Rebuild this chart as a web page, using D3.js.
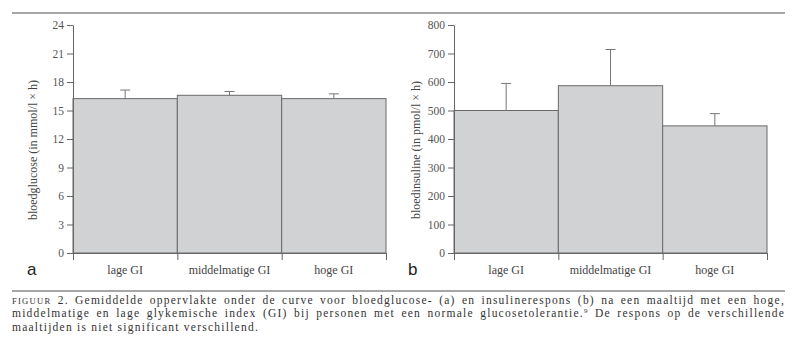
<!DOCTYPE html>
<html>
<head>
<meta charset="utf-8">
<script src="https://cdn.jsdelivr.net/npm/d3@7"></script>
<style>
  body { margin: 0; background: #fff; }
  svg { display: block; }
  .serif { font-family: "Liberation Serif", "Times New Roman", Times, serif; }
</style>
</head>
<body>
<div id="chart"></div>
<script>
// categories (x) shared by both panels
const categories = ["lage GI", "middelmatige GI", "hoge GI"];

// panel a: bloedglucose
const glucoseMean = [16.25, 16.6, 16.25];
const glucoseErr = [0.9, 0.4, 0.5];
const glucoseTicks = [0, 3, 6, 9, 12, 15, 18, 21, 24];

// panel b: bloedinsuline
const insulineMean = [500, 587, 446];
const insulineErr = [95, 127, 43];
const insulineTicks = [0, 100, 200, 300, 400, 500, 600, 700, 800];

const W = 800, H = 351;
const svg = d3.select("#chart").append("svg")
    .attr("width", W)
    .attr("height", H);

svg.append("rect").attr("width", W).attr("height", H).attr("fill", "#fff");

// top rule
svg.append("line")
    .attr("x1", 12).attr("x2", 785)
    .attr("y1", 13).attr("y2", 13)
    .attr("stroke", "#888").attr("stroke-width", 1.3);

function drawPanel(opts) {
    let x = d3.scaleBand()
        .domain(categories)
        .range([opts.left, opts.right])
        .padding(0);

    let y = d3.scaleLinear()
        .domain([0, d3.max(opts.ticks)])
        .range([253, 25]);

    let g = svg.append("g");

    // bars
    g.selectAll(".bar")
        .data(opts.mean)
        .enter()
        .append("rect")
        .attr("class", "bar")
        .attr("x", (d, i) => x(categories[i]))
        .attr("width", x.bandwidth())
        .attr("y", d => y(d))
        .attr("height", d => y(0) - y(d))
        .attr("fill", "#d1d2d4")
        .attr("stroke", "#6a6a6a")
        .attr("stroke-width", 1);

    // error bars (upper only)
    opts.mean.forEach((m, i) => {
        let cx = x(categories[i]) + x.bandwidth() / 2;
        g.append("line")
            .attr("x1", cx).attr("x2", cx)
            .attr("y1", y(m)).attr("y2", y(m + opts.err[i]))
            .attr("stroke", "#777");
        g.append("line")
            .attr("x1", cx - 5).attr("x2", cx + 5)
            .attr("y1", y(m + opts.err[i])).attr("y2", y(m + opts.err[i]))
            .attr("stroke", "#777");
    });

    // y axis
    let yAxis = g.append("g")
        .attr("transform", "translate(" + opts.left + ",0)")
        .call(d3.axisLeft(y).tickValues(opts.ticks).tickSize(6).tickPadding(3).tickSizeOuter(0));
    yAxis.selectAll("text")
        .attr("class", "serif")
        .attr("font-size", 11.5)
        .attr("fill", "#555");
    yAxis.selectAll("line, path").attr("stroke", "#666");

    // x axis: ticks at band edges
    let edges = categories.map(c => x(c)).concat([opts.right]);
    let xEdge = d3.scaleLinear().domain([opts.left, opts.right]).range([opts.left, opts.right]);
    let xAxis = g.append("g")
        .attr("transform", "translate(0,253)")
        .call(d3.axisBottom(xEdge).tickValues(edges).tickSize(7).tickFormat("").tickSizeOuter(0));
    xAxis.selectAll("line, path").attr("stroke", "#666");

    // category labels
    g.selectAll(".cat")
        .data(categories)
        .enter()
        .append("text")
        .attr("class", "serif")
        .attr("x", d => x(d) + x.bandwidth() / 2)
        .attr("y", 274)
        .attr("text-anchor", "middle")
        .attr("font-size", 12)
        .attr("fill", "#444")
        .text(d => d);

    // y label
    g.append("text")
        .attr("class", "serif")
        .attr("transform", "translate(" + opts.labelX + ",150) rotate(-90)")
        .attr("text-anchor", "middle")
        .attr("font-size", 12)
        .attr("fill", "#444")
        .text(opts.label);

    // panel letter
    g.append("text")
        .attr("x", opts.letterX)
        .attr("y", 275)
        .attr("font-family", "'Liberation Sans', Arial, sans-serif")
        .attr("font-size", 17)
        .attr("fill", "#222")
        .text(opts.letter);
}

drawPanel({
    left: 73, right: 386,
    mean: glucoseMean, err: glucoseErr, ticks: glucoseTicks,
    label: "bloedglucose (in mmol/l \u00d7 h)", labelX: 37,
    letter: "a", letterX: 27
});

drawPanel({
    left: 454, right: 767,
    mean: insulineMean, err: insulineErr, ticks: insulineTicks,
    label: "bloedinsuline (in pmol/l \u00d7 h)", labelX: 420,
    letter: "b", letterX: 408
});

// caption rule
svg.append("line")
    .attr("x1", 12).attr("x2", 785)
    .attr("y1", 291).attr("y2", 291)
    .attr("stroke", "#888").attr("stroke-width", 1.3);

let cap = svg.append("g")
    .attr("class", "serif")
    .attr("font-size", 11.5)
    .attr("fill", "#333");

let l1 = cap.append("text").attr("x", 12).attr("y", 303.5);
l1.append("tspan").attr("font-size", 8.6).text("FIGUUR");
l1.append("tspan").text(" 2. Gemiddelde oppervlakte onder de curve voor bloedglucose- (a) en insulinerespons (b) na een maaltijd met een hoge,");

let l2 = cap.append("text").attr("x", 12).attr("y", 317);
l2.append("tspan").text("middelmatige en lage glykemische index (GI) bij personen met een normale glucosetolerantie.");
l2.append("tspan").attr("font-size", 7).attr("dy", -4).text("9");
l2.append("tspan").attr("dy", 4).text(" De respons op de verschillende");

let l3 = cap.append("text").attr("x", 12).attr("y", 330.5)
    .text("maaltijden is niet significant verschillend.");

// widen the letters so the last line matches, then justify lines 1 and 2
let n3 = l3.text().length;
let ls = (247 - l3.node().getComputedTextLength()) / n3;
if (ls < 0) ls = 0;
cap.selectAll("text").attr("letter-spacing", ls);
[l1, l2].forEach(t => {
    let w = t.node().getComputedTextLength();
    let spaces = t.text().split(" ").length - 1;
    t.attr("word-spacing", Math.max(0, (773 - w) / spaces));
});
</script>
</body>
</html>
